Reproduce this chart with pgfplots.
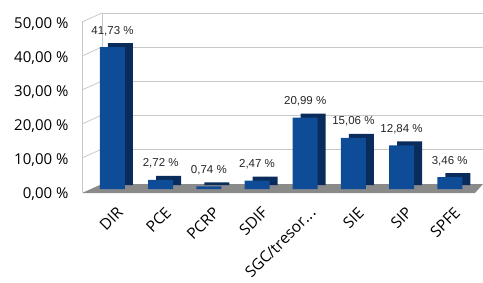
\documentclass[border=0pt]{standalone}
\usepackage{pgfplots}
\pgfplotsset{compat=1.18}
\usepackage{fontspec}
\setmainfont{Open Sans}
\newfontfamily\lab{Liberation Sans}
\definecolor{barfront}{HTML}{0F4C98}
\definecolor{barside}{HTML}{0A2C5C}
\definecolor{floorgray}{HTML}{8A8A8A}
\definecolor{wall}{HTML}{C8C8C8}
\newcommand{\dotsx}{.\kern0.5pt.\kern0.5pt.}
\begin{document}
\begin{tikzpicture}
\useasboundingbox (-82pt,-93pt) rectangle (401pt,189pt);
\begin{axis}[
  at={(0,0)}, anchor=south west,
  scale only axis, width=401pt, height=170pt,
  xmin=-0.633, xmax=7.69, ymin=0, ymax=50,
  clip=false,
  axis x line*=bottom,
  axis y line*=left,
  x axis line style={draw=none},
  y axis line style={draw=none},
  major tick length=0pt,
  ytick={0,10,20,30,40,50},
  /pgf/number format/.cd, fixed, fixed zerofill, precision=2, use comma, 1000 sep={}, assume math mode=true,
  /pgfplots/.cd,
  yticklabel={\pgfmathprintnumber{\tick}~\%},
  yticklabel style={font=\fontsize{15}{17}\selectfont, xshift=-10pt, yshift=-5pt},
  xtick={0,1,2,3,4,5,6,7},
  xticklabels={DIR,PCE,PCRP,SDIF,{SGC/tresor\dotsx},SIE,SIP,SPFE},
  xticklabel style={font=\fontsize{15.5}{17}\selectfont, rotate=45, anchor=north east, yshift=-11pt, xshift=-6pt},
]
% back wall grid and left wall
\pgfplotsinvokeforeach{10,20,30,40,50}{
  \draw[wall, line width=0.8pt] ([xshift=20pt,yshift=6pt]axis cs:-0.633,#1) -- ([yshift=6pt]axis cs:7.69,#1);
  \draw[wall, line width=0.8pt] ([yshift=-3pt]axis cs:-0.633,#1) -- ([xshift=20pt,yshift=6pt]axis cs:-0.633,#1);
}
\draw[wall, line width=0.8pt] ([xshift=20pt,yshift=-3pt]axis cs:-0.633,0) -- ([xshift=20pt,yshift=6pt]axis cs:-0.633,50);
\draw[wall, line width=0.8pt] ([yshift=-3pt]axis cs:-0.633,0) -- ([yshift=-3pt]axis cs:-0.633,50);
% floor
\fill[floorgray] ([yshift=-4pt]axis cs:-0.633,0) -- ([xshift=-8pt,yshift=-4pt]axis cs:7.69,0) -- ([yshift=5pt]axis cs:7.69,0) -- ([xshift=20pt,yshift=5pt]axis cs:-0.633,0) -- cycle;
% side faces
\addplot[ybar, bar width=25pt, bar shift=0pt, fill=barside, draw=none, xshift=8pt, yshift=4pt]
  coordinates {(0,41.73) (1,2.72) (2,0.74) (3,2.47) (4,20.99) (5,15.06) (6,12.84) (7,3.46)};
% front faces
\addplot[ybar, bar width=25pt, bar shift=0pt, fill=barfront, draw=none,
  nodes near coords={\pgfmathprintnumber{\pgfplotspointmeta}~\%},
  point meta=y,
  nodes near coords style={font=\lab\fontsize{11.5}{13}\selectfont, black!85, yshift=8pt}]
  coordinates {(0,41.73) (1,2.72) (2,0.74) (3,2.47) (4,20.99) (5,15.06) (6,12.84) (7,3.46)};
\end{axis}
\end{tikzpicture}
\end{document}
